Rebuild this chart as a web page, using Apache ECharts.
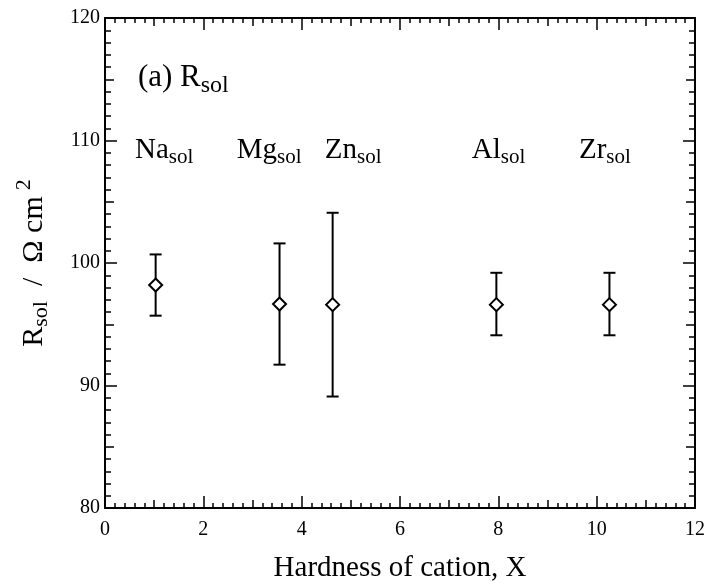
<!DOCTYPE html>
<html><head><meta charset="utf-8">
<script src="https://cdn.jsdelivr.net/npm/echarts@6/dist/echarts.min.js"></script>
<style>html,body{margin:0;padding:0;background:#fff}#c{width:708px;height:587px}</style>
</head><body><div id="c"></div>
<script>
// Data
const names = ['Na', 'Mg', 'Zn', 'Al', 'Zr'];
const hardness = [1.03, 3.55, 4.63, 7.96, 10.26];
const rsol = [98.2, 96.65, 96.6, 96.6, 96.6];
const errLow = [95.7, 91.7, 89.1, 94.1, 94.1];
const errHigh = [100.7, 101.6, 104.1, 99.2, 99.2];
const labelX = [0.61, 2.68, 4.47, 7.46, 9.64];
const labelY = [109.2, 109.2, 109.2, 109.2, 109.2];
const panelLabel = {x: 0.67, y: 115.1, text: '(a) ', sub: 'sol', main: 'R'};

const FONT = '"Liberation Serif", "Times New Roman", serif';
const chart = echarts.init(document.getElementById('c'));

function xAx(pos, interval, len, minor, labels, line) {
  return {
    type: 'value', position: pos, min: 0, max: 12, interval: interval,
    axisLine: {show: line, onZero: false, lineStyle: {color: '#000', width: 2}},
    axisTick: {show: true, inside: true, length: len, lineStyle: {color: '#000', width: 1.5}},
    minorTick: {show: minor, splitNumber: 10, length: 5, lineStyle: {color: '#000', width: 1.5}},
    axisLabel: {show: labels, fontFamily: FONT, fontSize: 20, color: '#000', margin: 12},
    splitLine: {show: false}
  };
}
function yAx(pos, interval, len, minor, labels, line) {
  return {
    type: 'value', position: pos, min: 80, max: 120, interval: interval,
    axisLine: {show: line, onZero: false, lineStyle: {color: '#000', width: 2}},
    axisTick: {show: true, inside: true, length: len, lineStyle: {color: '#000', width: 1.5}},
    minorTick: {show: minor, splitNumber: 10, length: 6, lineStyle: {color: '#000', width: 1.5}},
    axisLabel: {show: labels, fontFamily: FONT, fontSize: 20, color: '#000', margin: 5},
    splitLine: {show: false}
  };
}

const xAxes = [
  Object.assign(xAx('bottom', 2, 12, true, true, true), {
    name: 'Hardness of cation, X', nameLocation: 'middle', nameGap: 46,
    nameTextStyle: {fontFamily: FONT, fontSize: 29, color: '#000'}
  }),
  xAx('top', 2, 12, true, false, true),
  xAx('bottom', 1, 8, false, false, false),
  xAx('top', 1, 8, false, false, false)
];
const yAxes = [
  Object.assign(yAx('left', 10, 12, true, true, true), {
    name: '{m|R}{sub|sol}{m|  /  Ω cm}{sup|2}', nameLocation: 'middle', nameGap: 50, nameRotate: 90,
    nameTextStyle: {
      fontFamily: FONT, color: '#000',
      rich: {
        m: {fontFamily: FONT, fontSize: 30, color: '#000'},
        sub: {fontFamily: FONT, fontSize: 22, color: '#000', padding: [14, 0, 0, 0]},
        sup: {fontFamily: FONT, fontSize: 22, color: '#000', padding: [0, 0, 20, 6]}
      }
    }
  }),
  yAx('right', 10, 12, true, false, true),
  yAx('left', 5, 9, false, false, false),
  yAx('right', 5, 9, false, false, false)
];

const richLbl = {
  m: {fontFamily: FONT, fontSize: 29, color: '#000'},
  sub: {fontFamily: FONT, fontSize: 21, color: '#000', padding: [14, 0, 0, 0]},
  pm: {fontFamily: FONT, fontSize: 31, color: '#000'},
  psub: {fontFamily: FONT, fontSize: 24, color: '#000', padding: [16, 0, 0, 0]}
};

const points = hardness.map((x, i) => [x, rsol[i]]);
const errData = hardness.map((x, i) => [x, errLow[i], errHigh[i]]);
const lblData = names.map((n, i) => ({value: [labelX[i], labelY[i]], name: n}));

const lblStyle = {
  show: true, position: [0, 0], align: 'left', verticalAlign: 'middle',
  color: '#000', opacity: 1, textBorderWidth: 0
};

chart.setOption({
  animation: false,
  backgroundColor: '#fff',
  grid: {left: 105, right: 13, top: 18, bottom: 79, containLabel: false, outerBoundsMode: 'none'},
  xAxis: xAxes,
  yAxis: yAxes,
  series: [
    {
      type: 'custom', xAxisIndex: 0, yAxisIndex: 0, data: errData, z: 3,
      renderItem: function (params, api) {
        const x = api.value(0);
        const lo = api.coord([x, api.value(1)]);
        const hi = api.coord([x, api.value(2)]);
        const w = 6;
        const st = {stroke: '#000', lineWidth: 2};
        return {type: 'group', children: [
          {type: 'line', shape: {x1: lo[0], y1: lo[1], x2: hi[0], y2: hi[1]}, style: st},
          {type: 'line', shape: {x1: lo[0] - w, y1: lo[1], x2: lo[0] + w, y2: lo[1]}, style: st},
          {type: 'line', shape: {x1: hi[0] - w, y1: hi[1], x2: hi[0] + w, y2: hi[1]}, style: st}
        ]};
      }
    },
    {
      type: 'scatter', xAxisIndex: 0, yAxisIndex: 0, data: points, z: 4,
      symbol: 'diamond', symbolSize: [13, 13],
      itemStyle: {color: '#fff', borderColor: '#000', borderWidth: 2, opacity: 1}
    },
    {
      type: 'scatter', xAxisIndex: 0, yAxisIndex: 0, data: lblData, symbolSize: 0, silent: true,
      itemStyle: {opacity: 1},
      label: Object.assign({}, lblStyle, {
        formatter: p => '{m|' + p.name + '}{sub|sol}', rich: richLbl
      })
    },
    {
      type: 'scatter', xAxisIndex: 0, yAxisIndex: 0, symbolSize: 0, silent: true,
      itemStyle: {opacity: 1},
      data: [{value: [panelLabel.x, panelLabel.y], name: panelLabel.text + panelLabel.main}],
      label: Object.assign({}, lblStyle, {
        formatter: () => '{pm|' + panelLabel.text + panelLabel.main + '}{psub|' + panelLabel.sub + '}', rich: richLbl
      })
    }
  ]
});
</script>
</body></html>
